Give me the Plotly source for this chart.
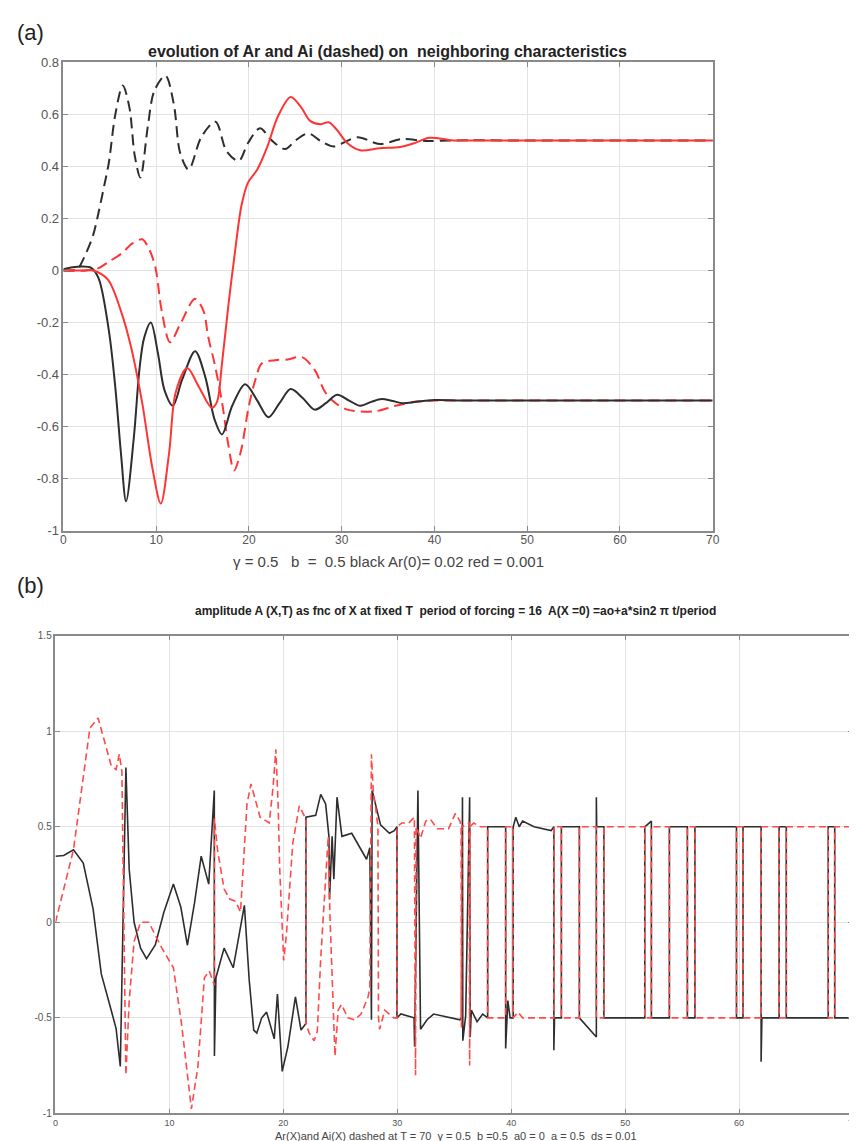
import plotly.graph_objects as go

W, H = 857, 1141

# ---------------- Panel (a) data: evolution of Ar and Ai ----------------
a_black_ar_t = [0, 1, 2, 3, 3.8, 4.9, 5.6, 6.2, 6.76, 7.6, 8.2, 8.7, 9.43, 10.2, 10.9, 11.8, 12.8,
                14.2, 15.3, 16.3, 17.1, 18.2, 19.6, 20.9, 22.1, 23.3, 24.5, 25.8, 27.1, 28.3, 29.5,
                30.8, 32.0, 33.2, 34.3, 35.5, 36.6, 38, 40, 43, 50, 60, 70]
a_black_ar_y = [0.005, 0.012, 0.015, 0.01, -0.03, -0.23, -0.45, -0.7, -0.887, -0.64, -0.38, -0.26, -0.2,
                -0.32, -0.46, -0.52, -0.42, -0.31, -0.41, -0.573, -0.63, -0.52, -0.437, -0.5, -0.564,
                -0.51, -0.456, -0.49, -0.535, -0.51, -0.478, -0.5, -0.52, -0.505, -0.494, -0.502,
                -0.51, -0.505, -0.498, -0.5, -0.5, -0.5, -0.5]

a_red_ar_t = [0, 2, 3.2, 4.8, 6.2, 7.3, 8.5, 9.6, 10.5, 11.4, 12.1, 13.35, 14.6, 16.0, 16.55, 17.1,
              17.8, 18.5, 19.2, 19.9, 20.9, 22.0, 23.1, 24.5, 25.6, 26.6, 27.7, 28.6, 29.5, 30.6,
              32.0, 34.1, 36.3, 37.7, 39.5, 42, 45, 50, 70]
a_red_ar_y = [0.0, 0.0, 0.0, -0.035, -0.155, -0.295, -0.51, -0.76, -0.896, -0.7, -0.47, -0.375,
              -0.447, -0.528, -0.506, -0.357, -0.13, 0.072, 0.25, 0.338, 0.388, 0.477, 0.59, 0.667,
              0.629, 0.575, 0.562, 0.57, 0.54, 0.49, 0.462, 0.47, 0.475, 0.488, 0.51, 0.5, 0.5, 0.5, 0.5]

a_black_ai_t = [0, 1.5, 2.1, 3.2, 3.8, 4.4, 4.9, 5.6, 6.4, 7.1, 7.7, 8.3, 9.1, 9.8, 11.0, 11.9, 12.6,
                13.5, 14.9, 16.4, 17.6, 18.9, 19.9, 21.2, 22.4, 23.9, 25.1, 26.4, 27.8, 29.1, 31.7,
                34.1, 36.5, 39, 42, 50, 70]
a_black_ai_y = [0.0, 0.005, 0.04, 0.135, 0.224, 0.326, 0.414, 0.6, 0.711, 0.63, 0.44, 0.357, 0.553,
                0.69, 0.749, 0.64, 0.45, 0.388, 0.515, 0.572, 0.458, 0.421, 0.49, 0.547, 0.502,
                0.467, 0.502, 0.527, 0.496, 0.477, 0.512, 0.486, 0.505, 0.498, 0.5, 0.5, 0.5]

a_red_ai_t = [0, 2.5, 3.8, 4.9, 6.3, 7.4, 8.5, 9.2, 9.9, 10.6, 11.5, 12.6, 14.2, 15.1, 15.6, 16.3,
              17.1, 17.8, 18.4, 19.1, 20.0, 20.7, 21.4, 22.8, 24.2, 25.7, 27.1, 28.1, 28.9, 30.6,
              33.6, 35.8, 37.9, 40, 45, 70]
a_red_ai_y = [0.0, 0.0, 0.009, 0.034, 0.066, 0.103, 0.12, 0.085, 0.015, -0.155, -0.276, -0.206,
              -0.109, -0.155, -0.253, -0.358, -0.506, -0.674, -0.769, -0.7, -0.52, -0.42, -0.357,
              -0.345, -0.342, -0.333, -0.383, -0.46, -0.497, -0.535, -0.541, -0.52, -0.505, -0.5,
              -0.5, -0.5]

a_xticks = [0, 10, 20, 30, 40, 50, 60, 70]
a_xlabels = ["0", "10", "20", "30", "40", "50", "60", "70"]
a_yticks = [-1, -0.8, -0.6, -0.4, -0.2, 0, 0.2, 0.4, 0.6, 0.8]
a_ylabels = ["-1", "-0.8", "-0.6", "-0.4", "-0.2", "0", "0.2", "0.4", "0.6", "0.8"]

# ---------------- Panel (b) data: A(X,T) at fixed T ----------------
b_ar_x = [0, 0.72, 1.58, 2.44, 3.3, 4.02, 4.89, 5.32, 5.69, 6.18, 6.47, 6.9, 7.47, 7.99, 8.76, 9.5,
          10.35, 11.0, 11.58, 12.2, 12.79, 13.45, 13.94, 13.95, 14.08, 14.8, 15.6, 16.58, 17.0, 17.4,
          17.67, 18.1, 18.53, 19.2, 19.48, 19.9, 20.4, 21.06, 21.55, 21.98, 21.98, 22.84, 23.28,
          23.71, 24.0, 24.05, 24.28, 24.43, 24.71, 25.14, 26.0, 26.87, 27.3, 27.59, 27.73, 27.79,
          28.0, 28.53, 29.31, 29.74, 29.97, 29.97, 30.32, 31.47, 31.52, 31.81, 32.04, 32.61, 33.19,
          34.05, 34.91, 35.49, 35.63, 35.72, 35.75, 36.0, 36.35, 36.4, 36.5, 37.0, 37.5, 37.93,
          37.93, 38.5, 39.51, 39.51, 39.7, 39.9, 40.17, 40.17, 40.4, 40.7, 41.0, 42.0, 43.5, 43.74,
          43.74, 43.8, 44.4, 44.4, 45.98, 45.98, 47.47, 47.47, 47.5, 48.13, 48.13, 51.72, 51.72,
          52.3, 52.3, 53.88, 53.88, 55.46, 55.46, 56.12, 56.12, 59.77, 59.77, 60.34, 60.34, 61.93,
          61.93, 62.0, 63.51, 63.51, 64.14, 64.14, 67.82, 67.82, 68.39, 68.39, 70]
b_ar_y = [0.346, 0.35, 0.38, 0.31, 0.07, -0.27, -0.46, -0.556, -0.754, 0.81, 0.277, 0.0, -0.135,
          -0.19, -0.118, 0.05, 0.2, 0.08, -0.12, 0.1, 0.346, 0.2, 0.69, -0.70, -0.29, -0.135, -0.238,
          0.089, -0.3, -0.564, -0.58, -0.5, -0.47, -0.61, -0.375, -0.78, -0.65, -0.39, -0.564, -0.53,
          0.55, 0.56, 0.67, 0.62, 0.45, 0.12, 0.45, 0.226, 0.655, 0.45, 0.466, 0.38, 0.33, 0.39,
          -0.51, 0.69, 0.64, 0.51, 0.466, 0.48, 0.5, -0.5, -0.48, -0.5, -0.65, 0.69, -0.56, -0.51,
          -0.48, -0.49, -0.5, -0.51, -0.5, 0.655, -0.62, -0.49, 0.655, -0.6, -0.46, -0.52, -0.48,
          -0.5, 0.5, 0.5, 0.5, -0.66, -0.41, -0.5, -0.5, 0.5, 0.55, 0.5, 0.53, 0.5, 0.48, 0.5,
          -0.67, -0.5, -0.5, 0.5, 0.5, -0.5, -0.6, 0.655, 0.5, 0.5, -0.5, -0.5, 0.5, 0.53, -0.5,
          -0.5, 0.5, 0.5, -0.5, -0.5, 0.5, 0.5, -0.5, -0.5, 0.5, 0.5, -0.73, -0.5, -0.5, 0.5, 0.5,
          -0.5, -0.5, 0.5, 0.5, -0.5, -0.5]

b_ai_x = [0, 1.58, 2.44, 3.02, 3.74, 4.31, 4.89, 5.32, 5.6, 5.83, 6.18, 6.47, 6.9, 7.47, 8.19, 9.34,
          10.35, 11.06, 11.93, 12.5, 13.07, 13.5, 13.94, 13.95, 14.22, 14.8, 15.3, 15.8, 16.24, 16.81,
          17.16, 17.96, 18.76, 19.1, 19.34, 19.54, 19.68, 20.03, 20.26, 20.83, 21.4, 21.9, 21.98,
          21.98, 22.27, 22.7, 22.98, 23.28, 23.71, 23.94, 24.09, 24.38, 24.53, 24.81, 25.1, 25.67,
          26.25, 26.82, 27.44, 27.59, 27.73, 27.9, 28.1, 28.3, 28.35, 28.45, 28.9, 29.3, 29.7, 29.97,
          29.97, 30.4, 31.0, 31.5, 31.6, 31.65, 32.04, 32.5, 32.9, 33.5, 34.5, 35.1, 35.5, 35.6,
          35.63, 35.66, 36.3, 36.35, 36.4, 36.7, 37.3, 37.93, 37.93, 39.51, 39.51, 40.17, 40.17,
          40.6, 41.0, 43.0, 43.74, 43.74, 44.4, 44.4, 45.98, 45.98, 47.47, 47.47, 48.13, 48.13,
          51.72, 51.72, 52.3, 52.3, 53.88, 53.88, 55.46, 55.46, 56.12, 56.12, 59.77, 59.77, 60.34,
          60.34, 61.93, 61.93, 63.51, 63.51, 64.14, 64.14, 67.82, 67.82, 68.39, 68.39, 70]
b_ai_y = [0.0, 0.38, 0.76, 1.016, 1.07, 0.95, 0.82, 0.8, 0.88, 0.79, -0.8, -0.41, -0.1, 0.0, 0.0,
          -0.135, -0.238, -0.53, -0.977, -0.755, -0.29, -0.255, -0.33, 0.544, 0.38, 0.174, 0.122,
          0.11, 0.054, 0.62, 0.724, 0.55, 0.52, 0.71, 0.905, 0.62, 0.28, -0.2, -0.07, 0.415, 0.61,
          0.55, 0.53, -0.53, -0.58, -0.62, -0.57, -0.19, 0.21, 0.45, 0.035, -0.48, -0.7, -0.46,
          -0.43, -0.5, -0.51, -0.48, -0.39, -0.34, 0.88, 0.67, 0.6, 0.5, -0.5, -0.56, -0.46, -0.48,
          -0.5, -0.5, 0.5, 0.52, 0.52, 0.55, -0.8, 0.5, 0.44, 0.53, 0.54, 0.49, 0.49, 0.57, 0.53,
          0.5, -0.55, 0.5, 0.52, -0.75, 0.5, 0.52, 0.5, 0.5, -0.5, -0.5, 0.5, 0.5, -0.5, -0.47,
          -0.5, -0.5, -0.5, 0.5, 0.5, -0.5, -0.5, 0.5, 0.5, -0.5, -0.5, 0.5, 0.5, -0.5, -0.5, 0.5,
          0.5, -0.5, -0.5, 0.5, 0.5, -0.5, -0.5, 0.5, 0.5, -0.5, -0.5, 0.5, 0.5, -0.5, -0.5, 0.5,
          0.5, -0.5, -0.5, 0.5, 0.5]

b_xticks = [0, 10, 20, 30, 40, 50, 60, 70]
b_xlabels = ["0", "10", "20", "30", "40", "50", "60", "70"]
b_yticks = [-1, -0.5, 0, 0.5, 1, 1.5]
b_ylabels = ["-1", "-0.5", "0", "0.5", "1", "1.5"]

# ---------------- styling ----------------
BLACK = "#2e2e2e"
RED = "#ff3535"
RED_B = "#ff4a4a"
FONT = "Liberation Sans, Arial, sans-serif"

fig = go.Figure()

def add(x, y, color, dash, width, ax, shape):
    fig.add_trace(go.Scatter(
        x=x, y=y, mode="lines", xaxis=ax[0], yaxis=ax[1], hoverinfo="skip",
        line=dict(color=color, dash=dash, width=width, shape=shape,
                  smoothing=0.9 if shape == "spline" else None)))

add(a_black_ai_t, a_black_ai_y, BLACK, "11px,6px", 2, ("x", "y"), "spline")
add(a_red_ai_t, a_red_ai_y, RED, "11px,6px", 2, ("x", "y"), "spline")
add(a_black_ar_t, a_black_ar_y, BLACK, "solid", 2, ("x", "y"), "spline")
add(a_red_ar_t, a_red_ar_y, RED, "solid", 2, ("x", "y"), "spline")

add(b_ar_x, b_ar_y, BLACK, "solid", 1.6, ("x2", "y2"), "linear")
add(b_ai_x, b_ai_y, RED_B, "7px,4px", 1.6, ("x2", "y2"), "linear")

def axis(domain, rng, tv, tt, anchor, fs, standoff=None):
    d = dict(domain=domain, range=rng, anchor=anchor, tickvals=tv, ticktext=tt,
             showgrid=True, gridcolor="#e3e3e3", gridwidth=1, zeroline=False,
             showline=True, linecolor="#8a8a8a", linewidth=1.5, mirror="allticks",
             ticks="inside", ticklen=5, tickwidth=1, tickcolor="#8a8a8a",
             tickfont=dict(family=FONT, size=fs, color="#555555"))
    if standoff is not None:
        d["ticklabelstandoff"] = standoff
    return d

fig.update_layout(
    width=W, height=H, margin=dict(l=0, r=0, t=0, b=0),
    paper_bgcolor="white", plot_bgcolor="white", showlegend=False,
    xaxis=axis([53 / W, 710 / W], [0, 70], a_xticks, a_xlabels, "y", 12, standoff=-3),
    yaxis=axis([1 - 522.5 / H, 1 - 48 / H], [-1, 0.8], a_yticks, a_ylabels, "x", 13),
    xaxis2=axis([45 / W, 852 / W], [0, 70], b_xticks, b_xlabels, "y2", 9),
    yaxis2=axis([1 - 1113 / H, 1 - 629 / H], [-1, 1.5], b_yticks, b_ylabels, "x2", 10),
)

def note(text, px, py, size, bold=False, color="#222222", xanchor="center"):
    fig.add_annotation(text=("<b>%s</b>" % text) if bold else text,
                       x=px / W, y=1 - py / H, xref="paper", yref="paper",
                       xanchor=xanchor, yanchor="middle", showarrow=False,
                       font=dict(family=FONT, size=size, color=color))

NB = "\u00a0"
note("(a)", 4, 18, 22, xanchor="left")
note("evolution of Ar and Ai (dashed) on" + NB + " neighboring characteristics", 381, 37, 16, bold=True)
note("γ = 0.5" + NB * 3 + "b" + NB + " = " + NB + "0.5 black Ar(0)= 0.02 red = 0.001", 382, 554, 15, color="#444444")
note("(b)", 4, 578, 22, xanchor="left")
note("amplitude A (X,T) as fnc of X at fixed T" + NB + " period of forcing = 16" + NB +
     " A(X =0) =ao+a*sin2 π t/period", 450, 604, 12, bold=True)
note("Ar(X)and Ai(X) dashed at T = 70" + NB + " γ = 0.5" + NB + " b =0.5" + NB + " a0 = 0" + NB +
     " a = 0.5" + NB + " ds = 0.01", 450, 1135.5, 11, color="#444444")

fig.write_html("out.html")
